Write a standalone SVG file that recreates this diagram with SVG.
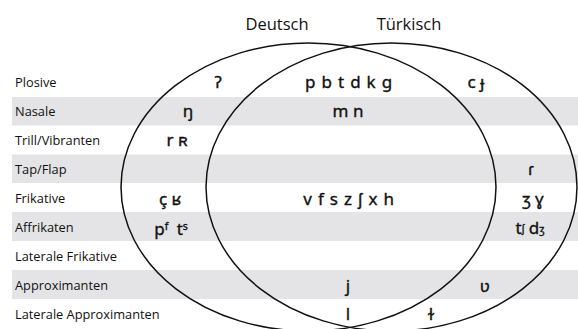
<svg xmlns="http://www.w3.org/2000/svg" width="578" height="329" viewBox="0 0 578 329">
<style>
.band{fill:#e4e4e6}
.lbl{font-family:"Open Sans","Noto Sans",sans-serif;font-size:12.8px;fill:#111}
.ttl{font-family:"Open Sans","Noto Sans",sans-serif;font-size:16.5px;fill:#111}
.ph{font-family:"Noto Sans","DejaVu Sans",sans-serif;font-size:17px;fill:#111;stroke:#111;stroke-width:0.35;text-anchor:middle}
.sup{font-size:10.5px}
.ell{fill:none;stroke:#111;stroke-width:1.5}
</style>
<g id="bands">
<rect class="band" x="12" y="97" width="566" height="28.5"/>
<rect class="band" x="12" y="154.5" width="566" height="28.5"/>
<rect class="band" x="12" y="212" width="566" height="29"/>
<rect class="band" x="12" y="270" width="566" height="29"/>
</g>
<g id="labels">
<text class="lbl" x="15" y="87">Plosive</text>
<text class="lbl" x="15" y="116">Nasale</text>
<text class="lbl" x="15" y="145">Trill/Vibranten</text>
<text class="lbl" x="15" y="174">Tap/Flap</text>
<text class="lbl" x="15" y="203">Frikative</text>
<text class="lbl" x="15" y="232">Affrikaten</text>
<text class="lbl" x="15" y="261">Laterale Frikative</text>
<text class="lbl" x="15" y="290">Approximanten</text>
<text class="lbl" x="15" y="319">Laterale Approximanten</text>
</g>
<g id="deutsch">
<ellipse class="ell" cx="308.5" cy="187" rx="187.5" ry="144"/>
<text class="ttl" x="277" y="30" text-anchor="middle">Deutsch</text>
</g>
<g id="tuerkisch">
<ellipse class="ell" cx="391.5" cy="187" rx="185.5" ry="144"/>
<text class="ttl" x="409" y="30" text-anchor="middle">Türkisch</text>
</g>
<g id="phonemes">
<text class="ph" x="218" y="88">ʔ</text>
<text class="ph" x="188" y="117">ŋ</text>
<text class="ph" x="177" y="146">r ʀ</text>
<text class="ph" x="349" y="88" letter-spacing="0.8">p b t d k g</text>
<text class="ph" x="348" y="117">m n</text>
<text class="ph" x="476" y="88">c ɟ</text>
<text class="ph" x="531" y="175">ɾ</text>
<text class="ph" x="170" y="205">ç ʁ</text>
<text class="ph" x="171" y="235">p<tspan class="sup" dy="-5">f</tspan><tspan dy="5" dx="4"> t</tspan><tspan class="sup" dy="-5">s</tspan></text>
<text class="ph" x="349" y="205" letter-spacing="0.8">v f s z ʃ x h</text>
<text class="ph" x="533" y="205">ʒ ɣ</text>
<text class="ph" x="530" y="234">t<tspan class="sup" dy="-2">ʃ</tspan><tspan dy="2"> d</tspan><tspan class="sup" dy="-1">ʒ</tspan></text>
<text class="ph" x="348" y="292">j</text>
<text class="ph" x="485" y="292">ʋ</text>
<text class="ph" x="348" y="320">l</text>
<text class="ph" x="431" y="320">ɫ</text>
</g>
</svg>
